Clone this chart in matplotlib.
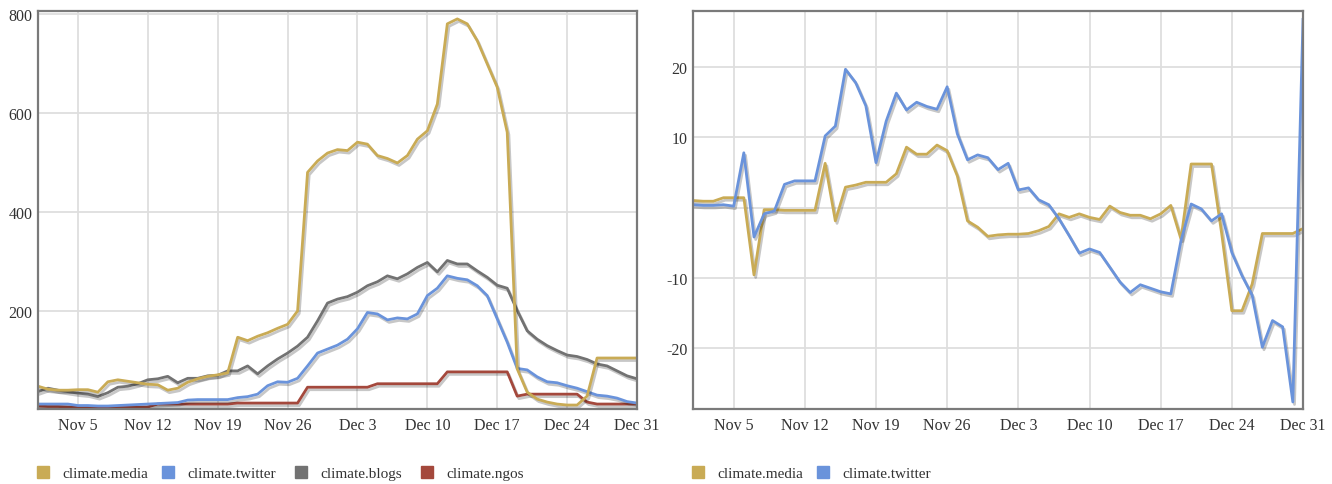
import matplotlib
matplotlib.use("Agg")
import matplotlib.pyplot as plt
import matplotlib.patheffects as pe
from matplotlib.lines import Line2D
import pandas as pd

plt.rcParams['font.family'] = ['Liberation Serif', 'DejaVu Serif']

dates = pd.date_range("2009-11-01", "2009-12-31", freq="D")
tick_dates = pd.to_datetime(["2009-11-05", "2009-11-12", "2009-11-19", "2009-11-26",
                             "2009-12-03", "2009-12-10", "2009-12-17", "2009-12-24",
                             "2009-12-31"])
tick_labels = ["Nov 5", "Nov 12", "Nov 19", "Nov 26", "Dec 3", "Dec 10",
               "Dec 17", "Dec 24", "Dec 31"]

# Left chart: volumes
media = [48, 42, 40, 40, 41, 41, 36, 57, 61, 58, 55, 52, 51, 40, 44, 56, 63, 68, 71, 75,
         147, 140, 149, 156, 165, 173, 200, 480, 503, 519, 526, 524, 541, 537, 514, 508,
         499, 514, 547, 564, 618, 780, 790, 780, 746, 699, 652, 561, 83, 36, 22, 16, 12,
         10, 10, 28, 105, 105, 105, 105, 105]
twitter = [12, 12, 12, 12, 9, 9, 8, 8, 9, 10, 11, 12, 13, 14, 15, 20, 21, 21, 21, 21,
           25, 27, 32, 49, 57, 56, 64, 89, 115, 123, 131, 143, 164, 197, 194, 182, 186,
           184, 194, 231, 246, 271, 266, 263, 251, 231, 184, 137, 84, 81, 67, 57, 55, 49,
           44, 37, 30, 28, 24, 17, 14]
blogs = [37, 44, 40, 37, 34, 32, 27, 35, 46, 48, 53, 61, 63, 68, 55, 64, 64, 69, 70, 79,
         79, 89, 73, 89, 103, 115, 129, 147, 180, 216, 224, 229, 238, 251, 259, 271, 265,
         275, 288, 298, 279, 302, 295, 295, 281, 268, 252, 246, 201, 160, 143, 130, 120,
         111, 108, 102, 93, 89, 79, 69, 63]
ngos = [8, 7, 7, 6, 6, 6, 6, 6, 6, 6, 6, 6, 12, 12, 12, 12, 12, 12, 12, 12,
        14, 14, 14, 14, 14, 14, 14, 46, 46, 46, 46, 46, 46, 46, 53, 53, 53, 53, 53, 53,
        53, 77, 77, 77, 77, 77, 77, 77, 28, 32, 32, 32, 32, 32, 32, 16, 12, 12, 12, 12, 12]

# Right chart: change
media_chg = [1.0, 0.9, 0.9, 1.4, 1.4, 1.4, -9.6, -0.3, -0.3, -0.4, -0.4, -0.4, -0.4, 6.3,
             -1.9, 2.9, 3.2, 3.6, 3.6, 3.6, 4.8, 8.6, 7.6, 7.6, 8.9, 8.1, 4.5, -1.9, -2.8,
             -4.1, -3.9, -3.8, -3.8, -3.7, -3.3, -2.7, -0.9, -1.4, -0.9, -1.4, -1.7, 0.2,
             -0.7, -1.1, -1.1, -1.6, -0.9, 0.3, -4.5, 6.2, 6.2, 6.2, -3.7, -14.7, -14.7,
             -10.9, -3.7, -3.7, -3.7, -3.7, -3.0]
twitter_chg = [0.4, 0.3, 0.3, 0.4, 0.2, 7.8, -4.2, -0.9, -0.5, 3.3, 3.8, 3.8, 3.8, 10.2,
               11.6, 19.7, 17.8, 14.5, 6.4, 12.3, 16.3, 13.9, 15.0, 14.4, 14.0, 17.2, 10.5,
               6.8, 7.5, 7.1, 5.4, 6.3, 2.5, 2.8, 1.1, 0.4, -1.6, -4.0, -6.5, -5.9, -6.4,
               -8.5, -10.6, -12.1, -11.0, -11.5, -12.0, -12.3, -4.7, 0.5, -0.2, -1.9, -0.9,
               -6.4, -9.7, -12.5, -19.9, -16.1, -17.0, -27.7, 26.8]

left_names = ["climate.media", "climate.twitter", "climate.blogs", "climate.ngos"]
right_names = ["climate.media", "climate.twitter"]

C_MEDIA = "#C9AB55"
C_TWITTER = "#6A93DB"
C_BLOGS = "#727272"
C_NGOS = "#A4483C"

W, H = 1332, 485
fig = plt.figure(figsize=(W / 100, H / 100), dpi=100)

def px_axes(x0, x1, y0, y1):
    return fig.add_axes([x0 / W, 1 - y1 / H, (x1 - x0) / W, (y1 - y0) / H])

axL = px_axes(38, 637, 12, 410)
axR = px_axes(693, 1303, 12, 410)

shadow = [pe.SimpleLineShadow(offset=(1.2, -1.8), shadow_color="k", alpha=0.22),
          pe.Normal()]

def style(ax):
    ax.set_facecolor("white")
    ax.grid(True, color="#DEDEDE", linewidth=1.3)
    ax.set_axisbelow(True)
    for s in ax.spines.values():
        s.set_color("#7A7A7A")
        s.set_linewidth(1.6)
    ax.tick_params(length=0, labelsize=11.5, colors="#333333")
    ax.tick_params(axis="x", pad=6)
    ax.tick_params(axis="y", pad=4)
    ax.set_xlim(dates[0], dates[-1])
    ax.set_xticks(tick_dates)
    ax.set_xticklabels(tick_labels)

for ax in (axL, axR):
    style(ax)

for vals, c in [(ngos, C_NGOS), (twitter, C_TWITTER), (blogs, C_BLOGS), (media, C_MEDIA)]:
    axL.plot(dates, vals, color=c, linewidth=2.0, path_effects=shadow,
             solid_joinstyle="round")
axL.set_ylim(2, 806)
axL.set_yticks([200, 400, 600, 800])

for vals, c in [(media_chg, C_MEDIA), (twitter_chg, C_TWITTER)]:
    axR.plot(dates, vals, color=c, linewidth=2.0, path_effects=shadow,
             solid_joinstyle="round")
axR.set_ylim(-28.7, 28.0)
axR.set_yticks([-20, -10, 0, 10, 20])
axR.set_yticklabels(["-20", "-10", "", "10", "20"])

def legend_item(xpx, name, color):
    h = Line2D([], [], marker="s", linestyle="none", markersize=8.5, color=color)
    lg = fig.legend([h], [name], loc="center left",
                    bbox_to_anchor=(xpx / W, 1 - 474 / H), frameon=False,
                    borderpad=0, borderaxespad=0, handlelength=0.8,
                    handletextpad=0.85, fontsize=11)
    for t in lg.get_texts():
        t.set_color("#333333")

for xpx, name, c in zip([37, 162, 295, 421], left_names,
                        [C_MEDIA, C_TWITTER, C_BLOGS, C_NGOS]):
    legend_item(xpx, name, c)
for xpx, name, c in zip([692, 817], right_names, [C_MEDIA, C_TWITTER]):
    legend_item(xpx, name, c)

fig.savefig("out.png", dpi=100)
